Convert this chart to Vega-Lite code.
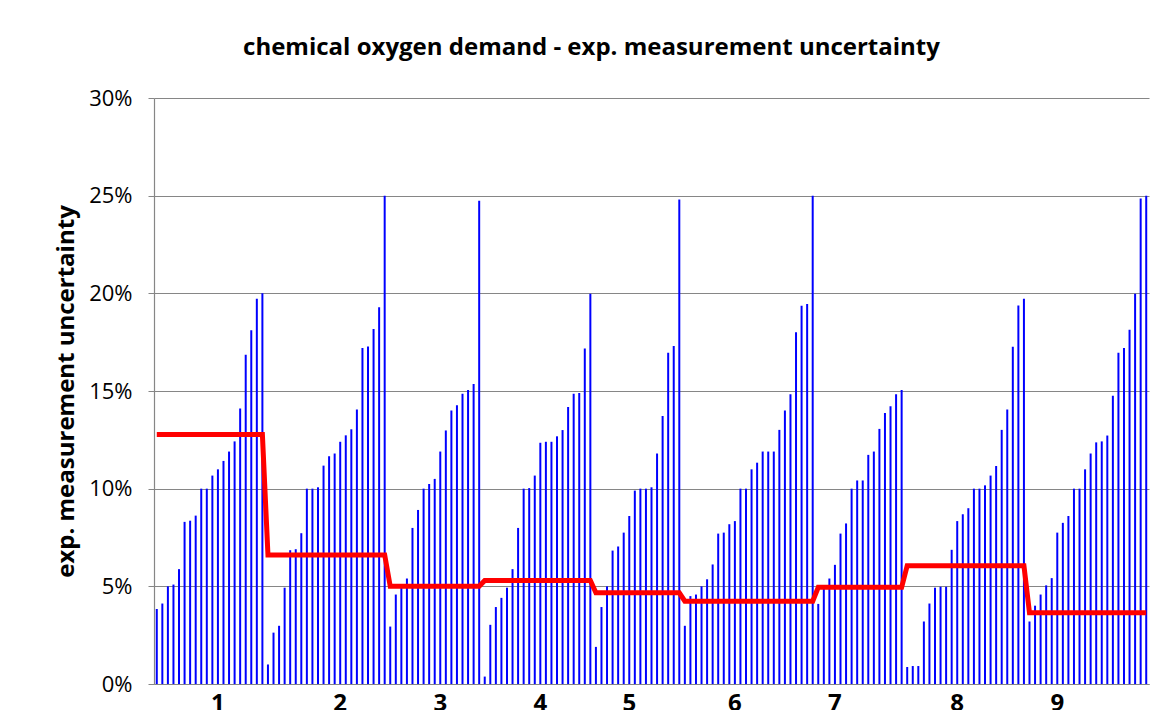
{
  "$schema": "https://vega.github.io/schema/vega-lite/v6.json",
  "autosize": "none",
  "width": 995,
  "height": 586,
  "padding": {"left": 154, "top": 98, "right": 24, "bottom": 26},
  "background": "white",
  "config": {"view": {"stroke": null}, "font": "Open Sans"},
  "title": {"text": "chemical oxygen demand - exp. measurement uncertainty", "font": "Open Sans", "fontSize": 24, "fontWeight": "bold", "color": "#000000", "anchor": "middle", "dx": -60, "offset": 27},
  "data": {"values": [
    {"i":0,"g":1,"v":3.84,"m":12.77},{"i":1,"g":1,"v":4.12,"m":12.77},{"i":2,"g":1,"v":5.0,"m":12.77},{"i":3,"g":1,"v":5.09,"m":12.77},{"i":4,"g":1,"v":5.88,"m":12.77},{"i":5,"g":1,"v":8.3,"m":12.77},{"i":6,"g":1,"v":8.36,"m":12.77},{"i":7,"g":1,"v":8.62,"m":12.77},{"i":8,"g":1,"v":10.0,"m":12.77},{"i":9,"g":1,"v":10.0,"m":12.77},{"i":10,"g":1,"v":10.67,"m":12.77},{"i":11,"g":1,"v":10.99,"m":12.77},{"i":12,"g":1,"v":11.42,"m":12.77},{"i":13,"g":1,"v":11.9,"m":12.77},{"i":14,"g":1,"v":12.42,"m":12.77},{"i":15,"g":1,"v":14.1,"m":12.77},{"i":16,"g":1,"v":16.85,"m":12.77},{"i":17,"g":1,"v":18.11,"m":12.77},{"i":18,"g":1,"v":19.72,"m":12.77},{"i":19,"g":1,"v":20.0,"m":12.77},
    {"i":20,"g":2,"v":1.0,"m":6.61},{"i":21,"g":2,"v":2.63,"m":6.61},{"i":22,"g":2,"v":2.98,"m":6.61},{"i":23,"g":2,"v":4.93,"m":6.61},{"i":24,"g":2,"v":6.85,"m":6.61},{"i":25,"g":2,"v":6.9,"m":6.61},{"i":26,"g":2,"v":7.72,"m":6.61},{"i":27,"g":2,"v":10.0,"m":6.61},{"i":28,"g":2,"v":10.0,"m":6.61},{"i":29,"g":2,"v":10.07,"m":6.61},{"i":30,"g":2,"v":11.18,"m":6.61},{"i":31,"g":2,"v":11.66,"m":6.61},{"i":32,"g":2,"v":11.8,"m":6.61},{"i":33,"g":2,"v":12.4,"m":6.61},{"i":34,"g":2,"v":12.73,"m":6.61},{"i":35,"g":2,"v":13.04,"m":6.61},{"i":36,"g":2,"v":14.05,"m":6.61},{"i":37,"g":2,"v":17.2,"m":6.61},{"i":38,"g":2,"v":17.28,"m":6.61},{"i":39,"g":2,"v":18.18,"m":6.61},{"i":40,"g":2,"v":19.29,"m":6.61},{"i":41,"g":2,"v":25.0,"m":6.61},
    {"i":42,"g":3,"v":2.94,"m":5.0},{"i":43,"g":3,"v":4.58,"m":5.0},{"i":44,"g":3,"v":5.0,"m":5.0},{"i":45,"g":3,"v":5.4,"m":5.0},{"i":46,"g":3,"v":7.99,"m":5.0},{"i":47,"g":3,"v":8.91,"m":5.0},{"i":48,"g":3,"v":10.0,"m":5.0},{"i":49,"g":3,"v":10.24,"m":5.0},{"i":50,"g":3,"v":10.5,"m":5.0},{"i":51,"g":3,"v":11.9,"m":5.0},{"i":52,"g":3,"v":12.98,"m":5.0},{"i":53,"g":3,"v":14.0,"m":5.0},{"i":54,"g":3,"v":14.27,"m":5.0},{"i":55,"g":3,"v":14.86,"m":5.0},{"i":56,"g":3,"v":15.05,"m":5.0},{"i":57,"g":3,"v":15.36,"m":5.0},{"i":58,"g":3,"v":24.74,"m":5.0},
    {"i":59,"g":4,"v":0.38,"m":5.3},{"i":60,"g":4,"v":3.03,"m":5.3},{"i":61,"g":4,"v":3.94,"m":5.3},{"i":62,"g":4,"v":4.41,"m":5.3},{"i":63,"g":4,"v":4.93,"m":5.3},{"i":64,"g":4,"v":5.88,"m":5.3},{"i":65,"g":4,"v":7.99,"m":5.3},{"i":66,"g":4,"v":10.0,"m":5.3},{"i":67,"g":4,"v":10.03,"m":5.3},{"i":68,"g":4,"v":10.67,"m":5.3},{"i":69,"g":4,"v":12.35,"m":5.3},{"i":70,"g":4,"v":12.4,"m":5.3},{"i":71,"g":4,"v":12.4,"m":5.3},{"i":72,"g":4,"v":12.68,"m":5.3},{"i":73,"g":4,"v":13.0,"m":5.3},{"i":74,"g":4,"v":14.18,"m":5.3},{"i":75,"g":4,"v":14.86,"m":5.3},{"i":76,"g":4,"v":14.9,"m":5.3},{"i":77,"g":4,"v":17.18,"m":5.3},{"i":78,"g":4,"v":19.98,"m":5.3},
    {"i":79,"g":5,"v":1.9,"m":4.67},{"i":80,"g":5,"v":3.94,"m":4.67},{"i":81,"g":5,"v":5.0,"m":4.67},{"i":82,"g":5,"v":6.83,"m":4.67},{"i":83,"g":5,"v":7.04,"m":4.67},{"i":84,"g":5,"v":7.75,"m":4.67},{"i":85,"g":5,"v":8.6,"m":4.67},{"i":86,"g":5,"v":9.9,"m":4.67},{"i":87,"g":5,"v":10.0,"m":4.67},{"i":88,"g":5,"v":10.0,"m":4.67},{"i":89,"g":5,"v":10.07,"m":4.67},{"i":90,"g":5,"v":11.8,"m":4.67},{"i":91,"g":5,"v":13.72,"m":4.67},{"i":92,"g":5,"v":16.96,"m":4.67},{"i":93,"g":5,"v":17.3,"m":4.67},{"i":94,"g":5,"v":24.8,"m":4.67},
    {"i":95,"g":6,"v":2.98,"m":4.24},{"i":96,"g":6,"v":4.5,"m":4.24},{"i":97,"g":6,"v":4.58,"m":4.24},{"i":98,"g":6,"v":5.0,"m":4.24},{"i":99,"g":6,"v":5.36,"m":4.24},{"i":100,"g":6,"v":6.12,"m":4.24},{"i":101,"g":6,"v":7.7,"m":4.24},{"i":102,"g":6,"v":7.75,"m":4.24},{"i":103,"g":6,"v":8.18,"m":4.24},{"i":104,"g":6,"v":8.34,"m":4.24},{"i":105,"g":6,"v":10.0,"m":4.24},{"i":106,"g":6,"v":10.0,"m":4.24},{"i":107,"g":6,"v":10.99,"m":4.24},{"i":108,"g":6,"v":11.33,"m":4.24},{"i":109,"g":6,"v":11.9,"m":4.24},{"i":110,"g":6,"v":11.9,"m":4.24},{"i":111,"g":6,"v":11.9,"m":4.24},{"i":112,"g":6,"v":13.01,"m":4.24},{"i":113,"g":6,"v":14.0,"m":4.24},{"i":114,"g":6,"v":14.84,"m":4.24},{"i":115,"g":6,"v":18.01,"m":4.24},{"i":116,"g":6,"v":19.36,"m":4.24},{"i":117,"g":6,"v":19.46,"m":4.24},{"i":118,"g":6,"v":25.0,"m":4.24},
    {"i":119,"g":7,"v":4.1,"m":4.95},{"i":120,"g":7,"v":5.0,"m":4.95},{"i":121,"g":7,"v":5.4,"m":4.95},{"i":122,"g":7,"v":6.1,"m":4.95},{"i":123,"g":7,"v":7.7,"m":4.95},{"i":124,"g":7,"v":8.22,"m":4.95},{"i":125,"g":7,"v":10.0,"m":4.95},{"i":126,"g":7,"v":10.42,"m":4.95},{"i":127,"g":7,"v":10.42,"m":4.95},{"i":128,"g":7,"v":11.73,"m":4.95},{"i":129,"g":7,"v":11.9,"m":4.95},{"i":130,"g":7,"v":13.06,"m":4.95},{"i":131,"g":7,"v":13.88,"m":4.95},{"i":132,"g":7,"v":14.22,"m":4.95},{"i":133,"g":7,"v":14.83,"m":4.95},{"i":134,"g":7,"v":15.05,"m":4.95},
    {"i":135,"g":8,"v":0.87,"m":6.06},{"i":136,"g":8,"v":0.92,"m":6.06},{"i":137,"g":8,"v":0.92,"m":6.06},{"i":138,"g":8,"v":3.2,"m":6.06},{"i":139,"g":8,"v":4.12,"m":6.06},{"i":140,"g":8,"v":4.93,"m":6.06},{"i":141,"g":8,"v":4.98,"m":6.06},{"i":142,"g":8,"v":4.98,"m":6.06},{"i":143,"g":8,"v":6.87,"m":6.06},{"i":144,"g":8,"v":8.34,"m":6.06},{"i":145,"g":8,"v":8.69,"m":6.06},{"i":146,"g":8,"v":9.0,"m":6.06},{"i":147,"g":8,"v":10.0,"m":6.06},{"i":148,"g":8,"v":10.0,"m":6.06},{"i":149,"g":8,"v":10.17,"m":6.06},{"i":150,"g":8,"v":10.67,"m":6.06},{"i":151,"g":8,"v":11.16,"m":6.06},{"i":152,"g":8,"v":13.01,"m":6.06},{"i":153,"g":8,"v":14.05,"m":6.06},{"i":154,"g":8,"v":17.27,"m":6.06},{"i":155,"g":8,"v":19.38,"m":6.06},{"i":156,"g":8,"v":19.72,"m":6.06},
    {"i":157,"g":9,"v":3.2,"m":3.65},{"i":158,"g":9,"v":4.01,"m":3.65},{"i":159,"g":9,"v":4.58,"m":3.65},{"i":160,"g":9,"v":5.05,"m":3.65},{"i":161,"g":9,"v":5.42,"m":3.65},{"i":162,"g":9,"v":7.75,"m":3.65},{"i":163,"g":9,"v":8.25,"m":3.65},{"i":164,"g":9,"v":8.6,"m":3.65},{"i":165,"g":9,"v":10.0,"m":3.65},{"i":166,"g":9,"v":10.0,"m":3.65},{"i":167,"g":9,"v":10.99,"m":3.65},{"i":168,"g":9,"v":11.8,"m":3.65},{"i":169,"g":9,"v":12.37,"m":3.65},{"i":170,"g":9,"v":12.42,"m":3.65},{"i":171,"g":9,"v":12.72,"m":3.65},{"i":172,"g":9,"v":14.76,"m":3.65},{"i":173,"g":9,"v":16.96,"m":3.65},{"i":174,"g":9,"v":17.2,"m":3.65},{"i":175,"g":9,"v":18.13,"m":3.65},{"i":176,"g":9,"v":19.98,"m":3.65},{"i":177,"g":9,"v":24.85,"m":3.65},{"i":178,"g":9,"v":25.0,"m":3.65}
  ]},
  "encoding": {
    "x": {"field": "i", "type": "ordinal", "scale": {"paddingInner": 0, "paddingOuter": 0},
      "axis": {"title": null, "values": [11,33,51,69,85,104,122,144,162], "labelExpr": "indexof([11,33,51,69,85,104,122,144,162], datum.value) + 1", "labelAngle": 0, "labelFont": "Open Sans", "labelFontSize": 24, "labelFontWeight": "bold", "labelColor": "#000000", "ticks": false, "labelPadding": 7, "domainColor": "#868686", "domainWidth": 1.2, "grid": false}}
  },
  "layer": [
    {"mark": {"type": "bar", "width": 2, "color": "#0000FF"},
     "encoding": {"y": {"field": "v", "type": "quantitative", "scale": {"domain": [0, 30], "nice": false},
       "axis": {"title": "exp. measurement uncertainty", "titleFont": "Open Sans", "titleFontSize": 24, "titleFontWeight": "bold", "titleColor": "#000000", "titlePadding": 10,
         "values": [0,5,10,15,20,25,30], "labelExpr": "datum.value + '%'", "labelFont": "Open Sans", "labelFontSize": 22, "labelColor": "#000000", "labelPadding": 16,
         "tickSize": 6, "tickColor": "#868686", "domainColor": "#868686", "domainWidth": 1.2, "gridColor": "#868686", "gridWidth": 1.2}}}},
    {"mark": {"type": "line", "color": "#FF0000", "strokeWidth": 5},
     "encoding": {"y": {"field": "m", "type": "quantitative"}}}
  ]
}
